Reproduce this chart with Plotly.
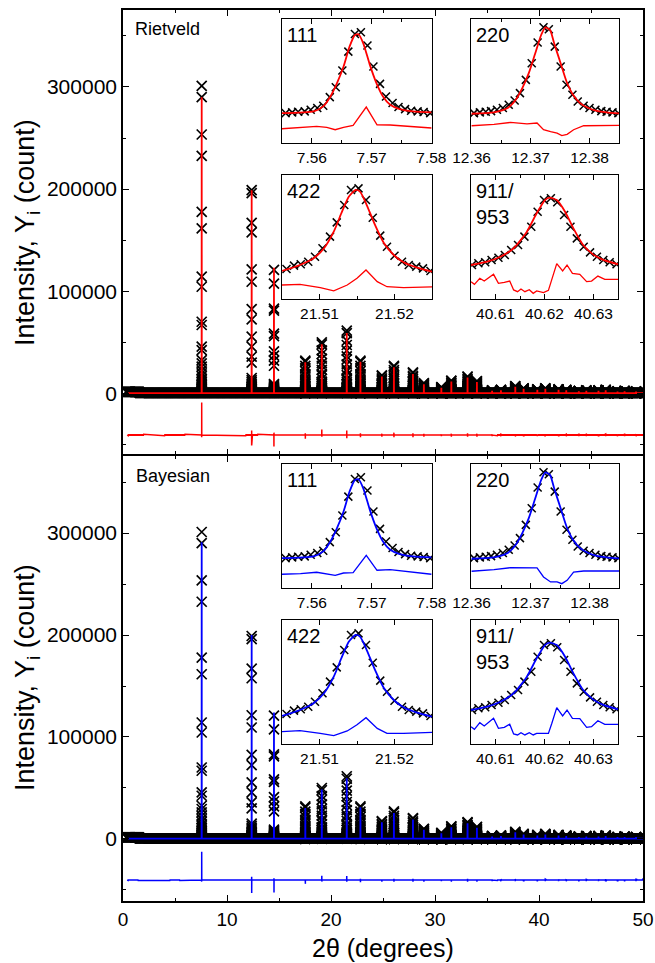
import numpy as np
import plotly.graph_objects as go

# ---------------- main pattern ----------------
PEAK_POS = [7.567, 12.372, 14.516, 17.53, 19.116, 21.515, 22.83, 24.89, 26.05, 27.88,
            28.93, 30.61, 31.57, 33.13, 34.03, 35.49, 36.34, 37.72, 38.52, 39.84,
            40.61, 41.88, 42.62, 43.83, 44.55, 45.72, 46.41, 47.55, 48.23, 49.33]
PEAK_OBS = [301000, 200000, 122000, 32000, 50000, 61500, 32000, 17500, 27000, 20500,
            10000, 6000, 12500, 16500, 12000, 3000, 3500, 7000, 5000, 4000,
            5000, 4000, 3500, 2500, 3000, 3000, 3500, 2000, 2500, 2000]
PEAK_CALC_R = [290000, 199000, 123000, 30500, 48000, 59000, 31000, 16500, 25500, 19000,
               9000, 5500, 11500, 15500, 11000, 2500, 3000, 6500, 4500, 3500,
               4500, 3500, 3000, 2000, 2500, 2500, 3000, 1800, 2000, 1800]
PEAK_CALC_B = [291000, 200000, 124000, 30500, 48500, 59500, 31000, 16500, 25500, 19000,
               9000, 5500, 11500, 15500, 11000, 2500, 3000, 6500, 4500, 3500,
               4500, 3500, 3000, 2000, 2500, 2500, 3000, 1800, 2000, 1800]

# explicit stacks of observed points on the three strongest peaks
STACK_111 = [301000, 290000, 253500, 232600, 177800, 161500, 114200, 104400, 70100,
             66900, 45700, 42400, 32600, 29400, 26100]
STACK_220 = [199000, 196000, 167000, 157600, 121300, 109300, 82500, 72400, 55500,
             45700, 35900, 30000]
STACK_311 = [121000, 107500, 83000, 81000, 58500, 56000, 41000, 37000, 32000, 27000]
# relative heights of the observed points on the other peaks
PROFILE_FRACS = [1.0, 0.96, 0.84, 0.77, 0.68, 0.59, 0.54, 0.46, 0.38, 0.35, 0.29, 0.23,
                 0.22, 0.18, 0.15, 0.14, 0.11, 0.10, 0.087]
TAIL_FRACS = [0.075, 0.065, 0.056, 0.048, 0.042, 0.036, 0.031, 0.027, 0.023, 0.02,
              0.017, 0.015, 0.013, 0.011, 0.009, 0.007, 0.005]

# background level segments (start, end, counts)
BG_SEGMENTS = [(0.3, 1.6, 1500), (1.6, 50.0, 500)]
CALC_BG = 300

# difference curves (offset)
DIFF_BASE_R = -40800
DIFF_UP_R = [-9000, -36500, -38500, -39000, -35500, -36500, -39000, -39500, -38500, -39000,
             -39500, -40000, -39500, -39000, -39500, -40000, -40000, -39800, -40000, -40000,
             -39800, -40000, -40000, -40000, -40000, -40000, -39800, -40000, -40000, -40000]
DIFF_DN_R = [-43000, -51000, -52000, -44500, -42500, -44000, -43000, -42500, -43000, -43000,
             -42500, -42000, -42500, -42500, -42500, -42000, -42000, -42000, -42000, -42000,
             -42000, -42000, -42000, -42000, -42000, -42000, -42000, -42000, -42000, -42000]
DIFF_BASE_B = -40200
DIFF_UP_B = [-12400, -37000, -38500, -39500, -36000, -36200, -39000, -39500, -39000, -39000,
             -39500, -39500, -39500, -39000, -39500, -39500, -39500, -39300, -39500, -39500,
             -39300, -39500, -39500, -39500, -39500, -39500, -39300, -39500, -39500, -39500]
DIFF_DN_B = [-41800, -53000, -52500, -44000, -41800, -42000, -42500, -42000, -42000, -42000,
             -41800, -41500, -42000, -42000, -42000, -41500, -41500, -41500, -41500, -41500,
             -41500, -41500, -41500, -41500, -41500, -41500, -41500, -41500, -41500, -41500]
# ranges where the difference curve is visibly noisy (start, end, half-amplitude)
DIFF_NOISE_R = [(0.5, 2.0, 700), (4.0, 6.0, 700), (11.8, 13.0, 800), (36.0, 50.0, 700)]
DIFF_NOISE_B = [(0.5, 1.5, 500), (4.5, 5.5, 500), (36.0, 50.0, 500)]

# ---------------- inset data (normalised intensity) ----------------
OBS111_X = [7.5556, 7.5567, 7.5577, 7.5588, 7.5598, 7.5609, 7.5619, 7.5630, 7.5640, 7.5651,
            7.5661, 7.5672, 7.5682, 7.5693, 7.5703, 7.5714, 7.5724, 7.5735, 7.5745, 7.5756,
            7.5766, 7.5777, 7.5787, 7.5798]
OBS111_Y = [24.1, 24.7, 25.2, 25.5, 26.8, 28.2, 30.0, 37.0, 45.0, 58.4, 73.7, 87.9, 89.3,
            78.6, 61.7, 47.7, 37.5, 32.2, 29.0, 27.3, 26.0, 25.5, 25.0, 24.1]
CALC111_X = [7.5550, 7.5603, 7.5619, 7.5631, 7.5642, 7.5653, 7.5663, 7.5672, 7.5678, 7.5686,
             7.5697, 7.5708, 7.5719, 7.5731, 7.5747, 7.5769, 7.5800]
CALC111_Y = [24.1, 25.5, 29.5, 37.5, 48.3, 61.7, 77.7, 87.1, 87.7, 80.4, 63.0, 48.3, 37.5,
             30.8, 27.3, 25.5, 24.7]
DIFF111_X = [7.5550, 7.5581, 7.5608, 7.5625, 7.5639, 7.5653, 7.5669, 7.5691, 7.5709, 7.5731,
             7.5753, 7.5800]
DIFF111_Y_R = [11.5, 12.3, 13.4, 12.6, 10.7, 12.6, 14.2, 29.0, 14.7, 14.5, 13.9, 12.1]
DIFF111_Y_B = [11.1, 11.6, 12.7, 11.6, 10.2, 12.1, 12.4, 26.4, 14.3, 14.8, 13.7, 11.1]

OBS220_X = [12.3604, 12.3614, 12.3624, 12.3633, 12.3643, 12.3653, 12.3663, 12.3673, 12.3682,
            12.3692, 12.3702, 12.3712, 12.3722, 12.3731, 12.3741, 12.3751, 12.3761, 12.3771,
            12.3780, 12.3790, 12.3800, 12.3810, 12.3820, 12.3829, 12.3839, 12.3849]
OBS220_Y = [24.1, 24.7, 25.2, 25.7, 26.8, 28.2, 30.8, 34.3, 40.2, 50.9, 64.3, 81.0, 93.3,
            91.7, 77.7, 61.7, 46.9, 38.9, 33.5, 30.0, 28.2, 26.8, 25.7, 25.2, 24.7, 24.1]
CALC220_X = [12.3600, 12.3638, 12.3661, 12.3675, 12.3686, 12.3697, 12.3708, 12.3718, 12.3725,
             12.3733, 12.3740, 12.3751, 12.3761, 12.3772, 12.3784, 12.3798, 12.3812, 12.3829,
             12.3850]
CALC220_Y = [23.6, 24.7, 28.2, 34.9, 44.2, 56.3, 72.4, 87.1, 93.3, 91.2, 80.4, 64.3, 49.6,
             38.9, 32.2, 28.2, 26.0, 24.7, 23.9]
DIFF220_X = [12.3600, 12.3638, 12.3666, 12.3694, 12.3711, 12.3722, 12.3734, 12.3745, 12.3753,
             12.3762, 12.3773, 12.3790, 12.3850]
DIFF220_Y_R = [13.9, 15.0, 16.6, 15.5, 16.1, 10.7, 9.1, 8.0, 5.9, 7.0, 10.7, 13.9, 14.2]
DIFF220_Y_B = [13.5, 14.8, 16.4, 16.3, 16.2, 8.9, 4.9, 4.9, 3.5, 6.2, 12.9, 13.7, 13.7]

OBS422_X = [21.5056, 21.5066, 21.5075, 21.5085, 21.5094, 21.5104, 21.5114, 21.5123, 21.5133,
            21.5142, 21.5152, 21.5162, 21.5171, 21.5181, 21.5190, 21.5200, 21.5210, 21.5219,
            21.5229, 21.5238, 21.5248]
OBS422_Y = [24.2, 26.9, 28.0, 30.1, 34.1, 40.9, 50.3, 61.8, 75.8, 87.9, 89.2, 79.8, 65.6,
            51.1, 42.2, 34.9, 30.1, 27.4, 26.1, 24.7, 22.6]
CALC422_X = [21.5050, 21.5074, 21.5092, 21.5106, 21.5119, 21.5130, 21.5139, 21.5148, 21.5154,
             21.5163, 21.5174, 21.5186, 21.5199, 21.5212, 21.5230, 21.5250]
CALC422_Y = [22.6, 27.4, 32.8, 40.9, 54.3, 70.4, 82.5, 87.9, 86.6, 75.8, 59.7, 44.9, 35.5,
             29.6, 25.3, 22.0]
DIFF422_X = [21.5050, 21.5074, 21.5101, 21.5119, 21.5137, 21.5150, 21.5162, 21.5177, 21.5190,
             21.5212, 21.5250]
DIFF422_Y_R = [11.3, 11.8, 9.1, 6.5, 11.3, 16.7, 23.4, 14.0, 9.9, 9.1, 9.7]
DIFF422_Y_B = [9.9, 10.8, 8.6, 6.7, 10.5, 15.5, 21.2, 12.6, 8.6, 8.6, 9.4]

OBS911_X = [40.6052, 40.6065, 40.6079, 40.6092, 40.6106, 40.6119, 40.6132, 40.6146, 40.6159,
            40.6173, 40.6186, 40.6199, 40.6213, 40.6226, 40.6240, 40.6253, 40.6266, 40.6280,
            40.6293, 40.6307, 40.6320, 40.6333, 40.6347]
OBS911_Y = [27.4, 28.8, 29.6, 31.5, 33.3, 35.5, 39.5, 43.5, 50.3, 58.3, 70.4, 79.8, 81.2,
            78.0, 67.7, 58.3, 48.9, 42.2, 37.6, 34.1, 31.5, 29.6, 28.0]
CALC911_X = [40.6050, 40.6083, 40.6110, 40.6137, 40.6164, 40.6184, 40.6201, 40.6211, 40.6225,
             40.6242, 40.6259, 40.6279, 40.6299, 40.6320, 40.6350]
CALC911_Y = [27.4, 30.1, 34.1, 40.9, 54.3, 69.1, 79.8, 81.7, 79.8, 70.4, 57.0, 43.5, 36.0,
             31.5, 28.0]
DIFF911_X = [40.6050, 40.6057, 40.6068, 40.6077, 40.6096, 40.6106, 40.6118, 40.6129, 40.6137,
             40.6145, 40.6152, 40.6160, 40.6169, 40.6177, 40.6184, 40.6198, 40.6208, 40.6215,
             40.6225, 40.6237, 40.6246, 40.6257, 40.6272, 40.6286, 40.6296, 40.6309, 40.6323,
             40.6350]
DIFF911_Y_R = [14.0, 11.8, 16.7, 14.5, 19.9, 12.6, 13.4, 14.5, 7.3, 5.9, 8.1, 5.9, 7.5, 4.6,
               6.5, 5.1, 7.0, 16.7, 28.5, 22.6, 27.4, 20.7, 19.9, 14.0, 14.5, 18.5, 15.9, 15.9]
DIFF911_Y_B = [14.0, 11.8, 17.2, 14.5, 20.7, 12.6, 13.4, 15.9, 8.1, 7.3, 9.1, 7.3, 9.1, 7.3,
               8.6, 8.6, 8.6, 16.7, 29.3, 22.6, 27.4, 20.7, 20.4, 13.4, 14.0, 18.8, 15.9, 15.9]

INSET_LABELS = ["111", "220", "422", "911/<br>953"]
INSET_RANGES = [[7.555, 7.5801], [12.3599, 12.385], [21.505, 21.525], [40.605, 40.635]]
INSET_TICK0 = [7.56, 12.36, 21.51, 40.61]

FONT = "Liberation Sans, Arial, sans-serif"
RED = "#ff0000"
BLUE = "#0000ff"

# ---------------- build main-panel arrays ----------------
def observed_points():
    xs, ys = [], []
    for (a, b, lvl) in BG_SEGMENTS:
        g = np.arange(a, b, 0.05)
        xs.extend(g.tolist())
        ys.extend([lvl] * len(g))
    for i, (p, h) in enumerate(zip(PEAK_POS, PEAK_OBS)):
        if i == 0:
            stack = STACK_111 + [h * f for f in TAIL_FRACS]
        elif i == 1:
            stack = STACK_220 + [h * f for f in TAIL_FRACS]
        elif i == 2:
            stack = STACK_311 + [h * f for f in TAIL_FRACS]
        else:
            stack = [h * f for f in PROFILE_FRACS + TAIL_FRACS]
        xs.extend([p] * len(stack))
        ys.extend(stack)
    return xs, ys


def calc_line(heights):
    xs, ys = [0.5], [CALC_BG]
    for p, h in zip(PEAK_POS, heights):
        xs += [p - 0.008, p, p + 0.008]
        ys += [CALC_BG, h, CALC_BG]
    xs.append(50.0)
    ys.append(CALC_BG)
    return xs, ys


def diff_line(base, ups, downs, noise):
    pts = [(0.4, base), (50.0, base)]
    for p, u, d in zip(PEAK_POS, ups, downs):
        pts += [(p - 0.008, base), (p - 0.003, d), (p, u), (p + 0.003, d), (p + 0.008, base)]
    for (a, b, amp) in noise:
        for j, xv in enumerate(np.arange(a, b, 0.04)):
            pts.append((float(xv), base + (amp if j % 2 else -amp)))
    pts.sort(key=lambda t: t[0])
    return [t[0] for t in pts], [t[1] for t in pts]


fig = go.Figure()

obs_x, obs_y = observed_points()
panels = [
    ("x2", "y2", RED, PEAK_CALC_R, DIFF_BASE_R, DIFF_UP_R, DIFF_DN_R, DIFF_NOISE_R),
    ("x", "y", BLUE, PEAK_CALC_B, DIFF_BASE_B, DIFF_UP_B, DIFF_DN_B, DIFF_NOISE_B),
]
for xa, ya, col, calc_h, dbase, dup, ddn, dnoise in panels:
    dx, dy = diff_line(dbase, dup, ddn, dnoise)
    fig.add_trace(go.Scatter(x=dx, y=dy, mode="lines", line=dict(color=col, width=1.5),
                             xaxis=xa, yaxis=ya, hoverinfo="skip"))
    fig.add_trace(go.Scatter(x=obs_x, y=obs_y, mode="markers",
                             marker=dict(symbol="x-thin", size=10,
                                         line=dict(width=1.7, color="black")),
                             xaxis=xa, yaxis=ya, hoverinfo="skip"))
    cx, cy = calc_line(calc_h)
    fig.add_trace(go.Scatter(x=cx, y=cy, mode="lines", line=dict(color=col, width=1.8),
                             xaxis=xa, yaxis=ya, hoverinfo="skip"))

# insets
inset_sets = [
    (OBS111_X, OBS111_Y, CALC111_X, CALC111_Y, DIFF111_X, DIFF111_Y_R, DIFF111_Y_B),
    (OBS220_X, OBS220_Y, CALC220_X, CALC220_Y, DIFF220_X, DIFF220_Y_R, DIFF220_Y_B),
    (OBS422_X, OBS422_Y, CALC422_X, CALC422_Y, DIFF422_X, DIFF422_Y_R, DIFF422_Y_B),
    (OBS911_X, OBS911_Y, CALC911_X, CALC911_Y, DIFF911_X, DIFF911_Y_R, DIFF911_Y_B),
]
for panel, col in ((0, RED), (1, BLUE)):
    for k, (ox, oy, cx, cy, dxx, dyr, dyb) in enumerate(inset_sets):
        n = 3 + panel * 4 + k
        xa, ya = f"x{n}", f"y{n}"
        dyy = dyr if panel == 0 else dyb
        fig.add_trace(go.Scatter(x=dxx, y=dyy, mode="lines", line=dict(color=col, width=1.3),
                                 xaxis=xa, yaxis=ya, hoverinfo="skip"))
        fig.add_trace(go.Scatter(x=ox, y=oy, mode="markers",
                                 marker=dict(symbol="x-thin", size=8,
                                             line=dict(width=1.5, color="black")),
                                 xaxis=xa, yaxis=ya, hoverinfo="skip"))
        fig.add_trace(go.Scatter(x=cx, y=cy, mode="lines",
                                 line=dict(color=col, width=1.8, shape="spline", smoothing=0.6),
                                 xaxis=xa, yaxis=ya, hoverinfo="skip"))

W, H = 655, 963


def px_x(v):
    return v / W


def px_y(v):
    return 1 - v / H


axis_common = dict(showline=True, linecolor="black", linewidth=1.6, mirror="allticks",
                   ticks="inside", tickcolor="black", tickwidth=1.4, showgrid=False,
                   zeroline=False, automargin=False)

main_xdom = [px_x(123), px_x(643)]
layout = dict(
    width=W, height=H, margin=dict(l=0, r=0, t=0, b=0, pad=0, autoexpand=False),
    paper_bgcolor="white", plot_bgcolor="white", showlegend=False,
    font=dict(family=FONT, color="black"),
)
YR_BOT = [-60800, 375500]
YR_TOP = [-59800, 375400]
layout["xaxis"] = dict(axis_common, domain=main_xdom, anchor="y", range=[0, 50], dtick=10,
                       tick0=0, ticklen=6,
                       minor=dict(dtick=5, ticklen=3.5, ticks="inside", tickcolor="black",
                                  tickwidth=1.3),
                       tickfont=dict(size=19, family=FONT))
layout["yaxis"] = dict(axis_common, domain=[px_y(901), px_y(456)], anchor="x", range=YR_BOT,
                       dtick=100000, tick0=0, ticklen=6, tickformat="d",
                       minor=dict(dtick=50000, ticklen=3.5, ticks="inside", tickcolor="black",
                                  tickwidth=1.3),
                       tickfont=dict(size=21, family=FONT))
layout["xaxis2"] = dict(axis_common, domain=main_xdom, anchor="y2", range=[0, 50], dtick=10,
                        tick0=0, ticklen=6, showticklabels=False,
                        minor=dict(dtick=5, ticklen=3.5, ticks="inside", tickcolor="black",
                                   tickwidth=1.3))
layout["yaxis2"] = dict(axis_common, domain=[px_y(454.4), px_y(10)], anchor="x2", range=YR_TOP,
                        dtick=100000, tick0=0, ticklen=6, tickformat="d",
                        minor=dict(dtick=50000, ticklen=3.5, ticks="inside", tickcolor="black",
                                   tickwidth=1.3),
                        tickfont=dict(size=21, family=FONT))

inset_x_px = [(282, 432), (471, 619), (282, 432), (471, 618)]
inset_y_px_top = [(19, 143), (19, 143), (175, 299), (175, 299)]
annotations = []
for panel in (0, 1):
    off = 445 * panel
    for k in range(4):
        n = 3 + panel * 4 + k
        x0, x1 = inset_x_px[k]
        y0, y1 = inset_y_px_top[k]
        y0 += off
        y1 += off
        layout[f"xaxis{n}"] = dict(axis_common, domain=[px_x(x0), px_x(x1)], anchor=f"y{n}",
                                   range=INSET_RANGES[k], tick0=INSET_TICK0[k], dtick=0.01,
                                   tickformat=".2f", ticklen=5, linewidth=1.3,
                                   minor=dict(dtick=0.005, ticklen=3, ticks="inside",
                                              tickcolor="black", tickwidth=1.2),
                                   tickfont=dict(size=15.5, family=FONT))
        layout[f"yaxis{n}"] = dict(showline=True, linecolor="black", linewidth=1.3,
                                   mirror=True, ticks="", showticklabels=False,
                                   showgrid=False, zeroline=False, automargin=False,
                                   domain=[px_y(y1), px_y(y0)], anchor=f"x{n}",
                                   range=[0, 100])
        annotations.append(dict(text=INSET_LABELS[k], xref="paper", yref="paper",
                                x=px_x(x0 + 3), y=px_y(y0 + 3), xanchor="left",
                                yanchor="top", showarrow=False, align="left",
                                font=dict(size=20, family=FONT, color="black")))

annotations += [
    dict(text="Rietveld", xref="paper", yref="paper", x=px_x(133), y=px_y(29),
         xanchor="left", yanchor="middle", showarrow=False,
         font=dict(size=18, family=FONT, color="black")),
    dict(text="Bayesian", xref="paper", yref="paper", x=px_x(134), y=px_y(476),
         xanchor="left", yanchor="middle", showarrow=False,
         font=dict(size=18, family=FONT, color="black")),
    dict(text="Intensity, Y<sub>i</sub> (count)", xref="paper", yref="paper",
         x=px_x(27), y=px_y(233), xanchor="center", yanchor="middle", textangle=-90,
         showarrow=False, font=dict(size=27, family=FONT, color="black")),
    dict(text="Intensity, Y<sub>i</sub> (count)", xref="paper", yref="paper",
         x=px_x(27), y=px_y(678), xanchor="center", yanchor="middle", textangle=-90,
         showarrow=False, font=dict(size=27, family=FONT, color="black")),
    dict(text="2θ (degrees)", xref="paper", yref="paper", x=px_x(383), y=px_y(948),
         xanchor="center", yanchor="middle", showarrow=False,
         font=dict(size=25, family=FONT, color="black")),
]
layout["annotations"] = annotations
fig.update_layout(**layout)
fig.write_html("out.html")
